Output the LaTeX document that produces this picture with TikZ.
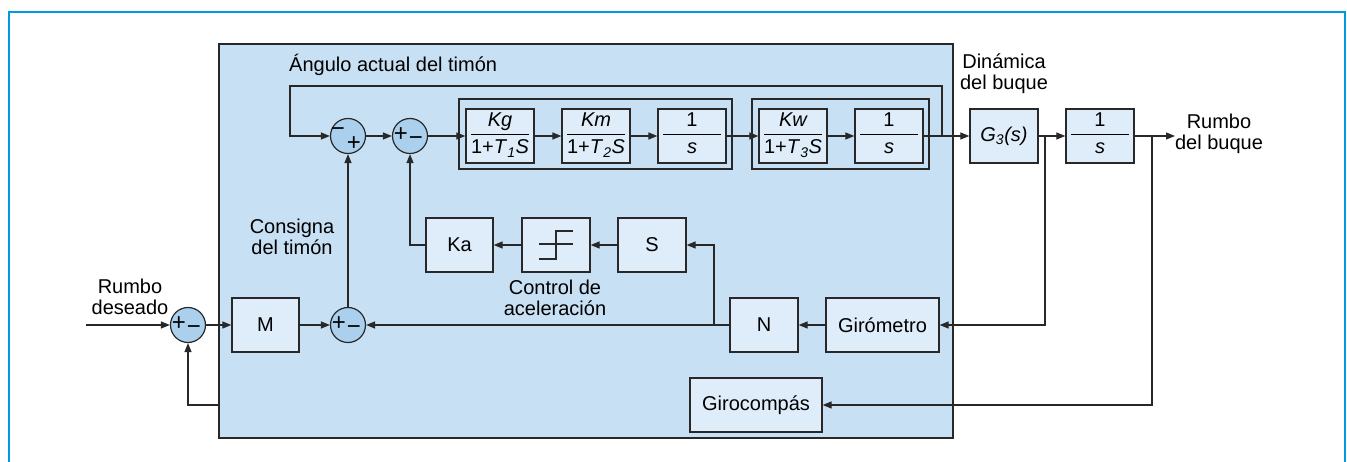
\documentclass[tikz,border=0pt]{standalone}
\usepackage{fontspec}
\setmainfont{Liberation Sans}
\usetikzlibrary{arrows.meta,calc}

\definecolor{framec}{RGB}{0,155,223}
\definecolor{bigfill}{RGB}{200,224,243}
\definecolor{blkfill}{RGB}{222,237,249}
\definecolor{sumfill}{RGB}{170,208,238}
\definecolor{linec}{RGB}{40,40,40}

\setlength{\arrayrulewidth}{1pt}
% transfer function written as a fraction inside a block
\newcommand\frc[2]{\begin{tabular}{@{}c@{}}\makebox[58pt]{\rule[-7.5pt]{0pt}{7pt}#1}\\\hline\makebox[58pt]{\rule{0pt}{19pt}#2}\end{tabular}}

\tikzset{
  blk/.style={draw=linec, fill=blkfill, line width=1.3pt, minimum height=54, inner sep=0pt},
  grp/.style={draw=linec, line width=1.3pt, inner sep=0pt},
  sum/.style={circle, draw=linec, fill=sumfill, line width=1.2pt, minimum size=35, inner sep=0pt},
  sgn/.style={inner sep=0pt, font=\fontsize{24}{24}\selectfont},
  wire/.style={draw=linec, line width=1.2pt},
  arr/.style={wire, -{Triangle[length=9pt,width=7pt]}},
  lbl/.style={align=center, inner sep=0pt},
}

\begin{document}
\begin{tikzpicture}[x=1pt, y=-1pt, font=\fontsize{20}{21}\selectfont]
\useasboundingbox (0,0) rectangle (1347,462);

% outer frame (open at the bottom)
\draw[framec, line width=2pt] (9,462) -- (9,12.5) -- (1345,12.5) -- (1345,462);

% autopilot enclosure
\node[draw=linec, fill=bigfill, line width=1.5pt, minimum width=734, minimum height=394, inner sep=0pt] (box) at (586,241) {};

% grouped blocks of the rudder servo
\node[grp, minimum width=273, minimum height=70] (g1) at (595.5,134) {};
\node[grp, minimum width=177, minimum height=70] (g2) at (840.5,134) {};

% forward path blocks
\node[blk, minimum width=68] (kg) at (500,136) {\frc{\itshape Kg}{1+\textit{T}\textsubscript{\textit{1}}\textit{S}}};
\node[blk, minimum width=68] (km) at (596,136) {\frc{\itshape Km}{1+\textit{T}\textsubscript{\textit{2}}\textit{S}}};
\node[blk, minimum width=68] (i1) at (692,136) {\frc{1}{\itshape s}};
\node[blk, minimum width=68] (kw) at (793,136) {\frc{\itshape Kw}{1+\textit{T}\textsubscript{\textit{3}}\textit{S}}};
\node[blk, minimum width=68] (i2) at (889,136) {\frc{1}{\itshape s}};
\node[blk, minimum width=68] (g3) at (1004,136) {\textit{G}\textsubscript{\textit{3}}\textit{(s)}};
\node[blk, minimum width=68] (ii) at (1100,136) {\frc{1}{\itshape s}};

% acceleration control
\node[blk, minimum width=67] (ka) at (459.5,245) {Ka};
\node[blk, minimum width=68] (sat) at (556,245) {};
\node[blk, minimum width=68] (sb) at (652,245) {S};
\draw[linec, line width=1.2pt] ($(sat)+(-17,-1)$) -- ($(sat)+(17,-1)$);
\draw[linec, line width=1.2pt] ($(sat)+(-17,14)$) -- ($(sat)+(0,14)$) -- ($(sat)+(0,-14)$) -- ($(sat)+(17,-14)$);

% lower row
\node[blk, minimum width=67] (m) at (265.5,325) {M};
\node[blk, minimum width=68] (n) at (764,325) {N};
\node[blk, minimum width=113] (gm) at (882.5,325) {Girómetro};
\node[blk, minimum width=132] (gc) at (756,405) {Girocompás};

% summing junctions
\node[sum] (s0) at (188,325) {};
\node[sum] (s3) at (348,325) {};
\node[sum] (s1) at (348,136) {};
\node[sum] (s2) at (410,136) {};
\node[sgn] at ($(s0)+(-9,-1)$) {+};
\node[sgn] at ($(s0)+(6,5)$) {\char"2212};
\node[sgn] at ($(s3)+(-9,-1)$) {+};
\node[sgn] at ($(s3)+(6,5)$) {\char"2212};
\node[sgn] at ($(s2)+(-9,-1)$) {+};
\node[sgn] at ($(s2)+(6,5)$) {\char"2212};
\node[sgn] at ($(s1)+(-10,-4)$) {\char"2212};
\node[sgn] at ($(s1)+(6,8)$) {+};

% helper points
\coordinate (in) at (86,325);
\coordinate (out) at (1175,136);
\coordinate (lp) at (942,136);
\coordinate (lpr) at (942,86);
\coordinate (lpl) at (290,86);
\coordinate (j1) at (714,325);
\coordinate (b1) at (1045,136);
\coordinate (b2) at (1152,136);
\coordinate (fb) at (219,405);

% connectors
\draw[arr] (in) -- (s0.west);
\draw[arr] (s0.east) -- (m.west);
\draw[arr] (m.east) -- (s3.west);
\draw[arr] (n.west) -- (s3.east);
\draw[arr] (j1) |- (sb.east);
\draw[arr] (gm.west) -- (n.east);
\draw[arr] (s3.north) -- (s1.south);
\draw[arr] (sb.west) -- (sat.east);
\draw[arr] (sat.west) -- (ka.east);
\draw[arr] (ka.west) -| (s2.south);
\draw[arr] (s1.east) -- (s2.west);
\draw[arr] (s2.east) -- (kg.west);
\draw[arr] (kg.east) -- (km.west);
\draw[arr] (km.east) -- (i1.west);
\draw[arr] (i1.east) -- (kw.west);
\draw[arr] (kw.east) -- (i2.west);
\draw[arr] (i2.east) -- (g3.west);
\draw[arr] (lp) -- (lpr) -- (lpl) |- (s1.west);
\draw[arr] (g3.east) -- (ii.west);
\draw[arr] (ii.east) -- (out);
\draw[arr] (b1) |- (gm.east);
\draw[arr] (b2) |- (gc.east);
\draw[arr] (fb) -| (s0.south);

% labels
\node[lbl, anchor=west] (t1) at (289,65) {Ángulo actual del timón};
\node[lbl] (t2) at (1004,74) {Dinámica\\del buque};
\node[lbl] (t3) at (1219,134) {Rumbo\\del buque};
\node[lbl] (t4) at (130,297) {Rumbo\\deseado};
\node[lbl] (t5) at (292,237) {Consigna\\del timón};
\node[lbl] (t6) at (555,298) {Control de\\aceleración};
\end{tikzpicture}
\end{document}
